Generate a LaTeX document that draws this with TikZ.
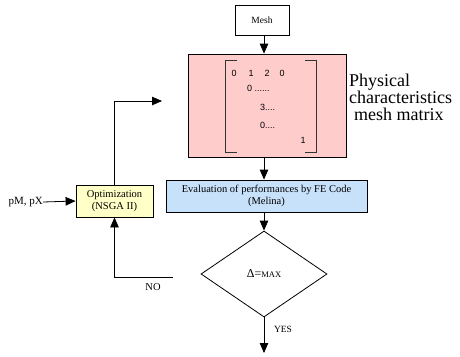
\documentclass[tikz,border=0pt]{standalone}
\usepackage{fontspec}
\setmainfont{Liberation Serif}
\setsansfont{Liberation Sans}
\usetikzlibrary{arrows.meta,shapes.geometric}
\definecolor{meshpink}{RGB}{255,204,204}
\definecolor{evalblue}{RGB}{200,225,250}
\definecolor{optyellow}{RGB}{255,255,200}
\tikzset{
    block/.style={
            draw,
            fill={#1},
            line width=0.8pt,
            inner sep=0pt, % size set by the minimum
            align=center,
            font=\fontsize{10.5}{12}\selectfont
        },
    block/.default={white}
}
\tikzset{
    flow/.style={
            line width=0.8pt,
            -{Triangle[length=10pt,width=8.5pt]}
        }
}
\tikzset{
    entry/.style={
            inner sep=0pt,
            font=\sffamily\fontsize{9}{10}\selectfont
        }
}
\tikzset{
    bracket/.style={
            line width=0.8pt,
            draw=black!80
        }
}
\newcommand{\flowcoord}{%
    \coordinate (meshc) at (262,20);
    \coordinate (matc) at (267,105.5);
    \coordinate (evalc) at (266.5,196);
    \coordinate (testc) at (264,274);
    \coordinate (optc) at (114.5,201);
    %
    \coordinate (loopend) at (162,101);
    \coordinate (nostart) at (173,277);
    \coordinate (yesend) at (264,353);
    \coordinate (paramend) at (43,202);
}

\begin{document}
\begin{tikzpicture}[x=1pt, y=-1pt]
    \useasboundingbox (0,0) rectangle (460,356);
    \flowcoord
    %
    \node [block, minimum width=54pt, minimum height=30pt,
        font=\fontsize{9.5}{11}\selectfont] (mesh) at (meshc) {Mesh};
    \node [block=meshpink, minimum width=158pt, minimum height=103pt] (mat) at (matc) {};
    \node [block=evalblue, minimum width=201pt, minimum height=32pt] (eval) at (evalc)
        {Evaluation of performances by FE Code\\(Melina)};
    \node [block, diamond, minimum width=126pt, minimum height=86pt] (test) at (testc)
        {\fontsize{12}{12}\selectfont Δ=\fontsize{8.5}{8.5}\selectfont MAX};
    \node [block=optyellow, minimum width=77pt, minimum height=32pt] (opt) at (optc)
        {Optimization\\(NSGA II)};
    %
    % matrix brackets
    \draw [bracket] (237,60) -- (225,60) -- (225,152) -- (237,152);
    \draw [bracket] (305,60) -- (316,60) -- (316,152) -- (305,152);
    \node [entry] (m11) at (234,73) {0};
    \node [entry] (m12) at (251,73) {1};
    \node [entry] (m13) at (267,73) {2};
    \node [entry] (m14) at (282,73) {0};
    \node [entry, anchor=west] (m22) at (247,88) {0 ......};
    \node [entry, anchor=west] (m33) at (260,107) {3....};
    \node [entry, anchor=west] (m44) at (260,125) {0....};
    \node [entry] (m55) at (303,140) {1};
    %
    \node [anchor=west, align=left, inner sep=0pt,
        font=\fontsize{18}{17}\selectfont] (phys) at (349,97)
        {Physical\\characteristics\\\hspace*{5pt}mesh matrix};
    %
    \draw [flow] (mesh.south -| test.north) -- (mat.north -| test.north);
    \draw [flow] (mat.south -| test.north) -- (eval.north -| test.north);
    \draw [flow] (eval.south -| test.north) -- (test.north);
    \draw [flow] (test.south) -- (yesend);
    \draw [flow] (opt.north) |- (loopend);
    \draw [flow] (nostart) -| (opt.south);
    \node [inner sep=0pt, anchor=east, font=\fontsize{11}{12}\selectfont] (param)
        at (paramend) {pM, pX};
    \draw [flow] (param.east) -- (opt.west);
    %
    \node [inner sep=0pt, font=\fontsize{10.5}{12}\selectfont] (no) at (153,287) {NO};
    \node [inner sep=0pt, font=\fontsize{9.5}{11}\selectfont] (yes) at (283,329) {YES};
\end{tikzpicture}
\end{document}
